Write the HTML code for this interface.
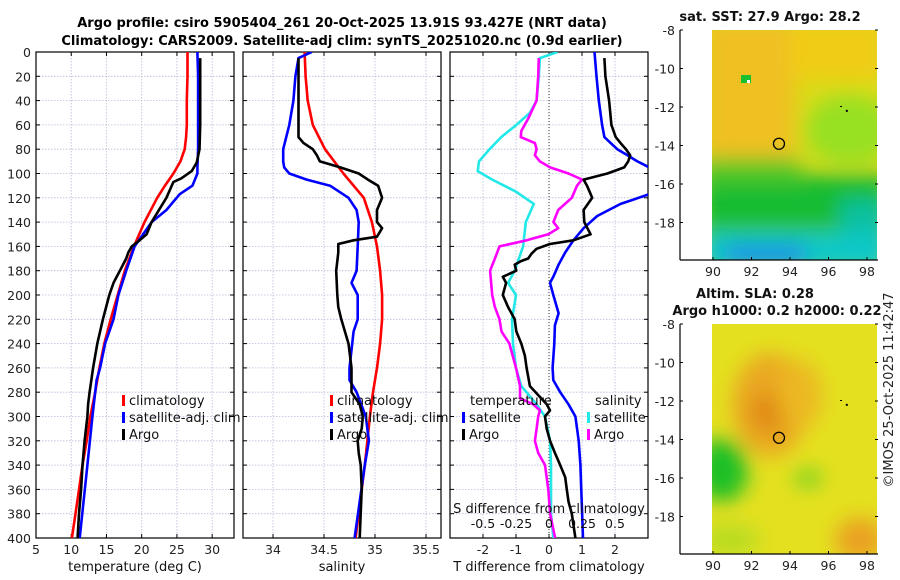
<!DOCTYPE html>
<html><head><meta charset="utf-8"><style>
body{margin:0;background:#fff;}
svg{display:block;font-family:"DejaVu Sans","Liberation Sans",sans-serif;}
</style></head><body>
<svg id="fig" width="900" height="580" viewBox="0 0 900 580" xmlns="http://www.w3.org/2000/svg">
<defs>
<filter id="blur6" x="-50%" y="-50%" width="200%" height="200%"><feGaussianBlur stdDeviation="6"/></filter>
<filter id="blur10" x="-50%" y="-50%" width="200%" height="200%"><feGaussianBlur stdDeviation="10"/></filter>
<clipPath id="m1clip"><rect x="712" y="30" width="165" height="230"/></clipPath>
<clipPath id="m2clip"><rect x="712" y="324" width="165" height="230"/></clipPath>
<clipPath id="p1c"><rect x="36" y="52" width="198" height="486"/></clipPath>
<clipPath id="p2c"><rect x="243" y="52" width="198" height="486"/></clipPath>
<clipPath id="p3c"><rect x="450" y="52" width="198" height="486"/></clipPath>
</defs>
<text x="342" y="27" text-anchor="middle" font-size="13" font-weight="bold">Argo profile: csiro 5905404_261 20-Oct-2025 13.91S 93.427E (NRT data)</text>
<text x="342" y="45" text-anchor="middle" font-size="13" font-weight="bold">Climatology: CARS2009. Satellite-adj clim: synTS_20251020.nc (0.9d earlier)</text>
<g id="plots"></g>
<g id="maps">
  <!-- map 1 SST -->
  <g clip-path="url(#m1clip)">
    <rect x="712" y="30" width="165" height="230" fill="#d8dc18"/>
    <g filter="url(#blur10)">
      <rect x="705" y="20" width="90" height="140" fill="#f0c020"/>
      <rect x="790" y="20" width="95" height="60" fill="#f0cc18"/>
      <ellipse cx="850" cy="130" rx="45" ry="35" fill="#98e020"/>
      <rect x="700" y="175" width="190" height="55" fill="#18bc30"/>
      <rect x="700" y="158" width="100" height="25" fill="#50c828"/>
      <rect x="840" y="200" width="50" height="40" fill="#10c0a0"/>
      <rect x="700" y="232" width="190" height="40" fill="#10c8c8"/>
      <rect x="725" y="245" width="80" height="20" fill="#1890e8"/>
    </g>
    <rect x="741" y="75" width="10" height="8" fill="#18c030"/>
    <rect x="747" y="80" width="3" height="3" fill="#fff"/>
  </g>
  <!-- map 2 SLA -->
  <g clip-path="url(#m2clip)">
    <rect x="712" y="324" width="165" height="230" fill="#e4e020"/>
    <g filter="url(#blur10)">
      <ellipse cx="770" cy="405" rx="38" ry="52" fill="#eaa820"/>
      <ellipse cx="768" cy="412" rx="18" ry="20" fill="#e08a18"/>
      <ellipse cx="800" cy="395" rx="22" ry="35" fill="#ecb820"/>
      <ellipse cx="722" cy="470" rx="26" ry="32" fill="#1cc028"/>
      <ellipse cx="808" cy="478" rx="14" ry="8" fill="#60d020"/>
      <ellipse cx="860" cy="540" rx="25" ry="22" fill="#eaa020"/>
      <ellipse cx="730" cy="540" rx="30" ry="16" fill="#b8dc20"/>
    </g>
  </g>
</g>
<g id="mapaxes"></g>
<text transform="translate(893,390) rotate(-90)" text-anchor="middle" font-size="13" fill="#222">©IMOS 25-Oct-2025 11:42:47</text>
</svg>
<script>
const NS="http://www.w3.org/2000/svg";
// ---- data ----
const tClimDepth=[0,20,40,60,70,80,90,100,110,120,140,160,180,200,220,240,260,280,300,320,340,360,380,400];
const tClimVal=[26.5,26.5,26.4,26.4,26.3,26.1,25.5,24.5,23.3,22.2,20.4,18.9,17.6,16.6,15.6,14.7,14.0,13.4,12.7,12.2,11.6,11.1,10.6,10.1];
const tSatDepth=[0,20,40,60,80,95,100,110,117,130,140,150,160,180,200,220,240,260,270,300,340,400];
const tSatVal=[27.9,28.0,28.0,28.0,28.0,27.9,27.9,27.2,25.4,23.5,21.4,20.2,19.0,17.8,16.7,16.0,14.8,14.1,13.6,13.0,12.3,11.2];
const tArgoDepth=[5,20,40,60,80,91,98,104,107,120,140,150,155,160,165,170,180,190,200,220,240,260,280,290,300,320,340,360,380,400];
const tArgoVal=[28.3,28.3,28.3,28.3,28.2,27.8,27.1,25.6,24.5,23.5,21.4,20.7,19.7,18.6,18.1,17.8,16.9,16.0,15.4,14.5,13.7,13.1,12.6,12.4,12.3,11.9,11.6,11.4,11.1,10.9];
const sClimDepth=[0,20,40,60,80,100,120,140,160,180,200,220,240,260,280,300,340,400];
const sClimVal=[34.31,34.32,34.34,34.39,34.51,34.69,34.89,34.97,35.02,35.05,35.07,35.07,35.05,35.02,34.98,34.95,34.90,34.81];
const sSatDepth=[0,5,20,40,60,80,90,95,100,105,110,120,130,140,160,180,190,200,220,230,260,270,280,300,320,340,400];
const sSatVal=[34.38,34.25,34.22,34.20,34.16,34.10,34.10,34.11,34.16,34.33,34.56,34.74,34.82,34.84,34.83,34.82,34.77,34.83,34.83,34.79,34.75,34.75,34.82,34.91,34.94,34.90,34.80];
const sArgoDepth=[5,20,40,60,70,75,80,85,90,95,100,105,110,120,130,140,145,152,155,158,165,180,200,210,220,240,260,280,290,300,310,320,330,340,360,400];
const sArgoVal=[34.25,34.25,34.25,34.25,34.25,34.30,34.39,34.43,34.46,34.66,34.84,34.93,35.03,35.07,35.02,35.02,35.07,35.02,34.79,34.64,34.64,34.62,34.63,34.64,34.67,34.74,34.77,34.77,34.85,34.88,34.87,34.83,34.84,34.86,34.87,34.85];
const dTSatDepth=[0,20,40,60,70,75,80,85,90,95,null,117,125,135,145,155,165,175,185,190,200,215,225,240,260,270,280,290,300,320,340,400];
const dTSatVal=[1.38,1.44,1.51,1.61,1.68,1.87,2.07,2.38,2.68,3.04,null,3.04,2.17,1.46,1.05,0.74,0.49,0.29,0.13,0.03,0.13,0.29,0.18,0.16,0.11,0.13,0.34,0.59,0.80,0.90,0.95,1.03];
const dTArgoDepth=[5,20,40,60,70,75,80,85,90,95,100,105,110,120,130,140,150,155,158,162,166,170,172,175,180,185,190,200,210,220,230,240,250,260,275,290,295,300,310,320,330,340,350,360,370,380,400];
const dTArgoVal=[1.68,1.71,1.82,1.89,2.02,2.17,2.33,2.46,2.40,2.28,1.77,1.05,1.15,1.31,1.05,1.07,1.26,0.74,0.03,-0.38,-0.53,-0.63,-0.84,-1.04,-0.99,-1.40,-1.30,-1.40,-1.24,-1.04,-0.99,-0.84,-0.73,-0.68,-0.58,-0.07,0.03,-0.12,-0.07,0.03,0.18,0.34,0.49,0.54,0.59,0.69,0.80];
const dSSatDepth=[0,5,20,40,50,60,70,80,90,98,105,115,125,140,160,180,190,200,220,240,260,275,290,300,320,340,380,400];
const dSSatVal=[0.064,-0.069,-0.077,-0.094,-0.145,-0.247,-0.362,-0.45,-0.53,-0.54,-0.43,-0.25,-0.115,-0.176,-0.196,-0.26,-0.31,-0.25,-0.28,-0.273,-0.25,-0.21,-0.094,-0.03,0.008,0.015,0.015,0.033];
const dSArgoDepth=[5,20,40,55,65,70,75,80,85,90,95,100,105,110,120,130,140,145,150,155,160,170,180,200,210,220,230,240,260,275,285,290,295,300,310,320,330,340,360,380,400];
const dSArgoVal=[-0.077,-0.082,-0.094,-0.158,-0.21,-0.214,-0.107,-0.094,-0.107,-0.069,0.008,0.148,0.25,0.212,0.173,0.07,0.033,0.07,-0.005,-0.17,-0.375,-0.41,-0.446,-0.43,-0.41,-0.375,-0.36,-0.30,-0.25,-0.22,-0.22,-0.12,-0.069,-0.082,-0.094,-0.107,-0.082,-0.03,-0.005,0.008,0.046];
const depthTicks=[0,20,40,60,80,100,120,140,160,180,200,220,240,260,280,300,320,340,360,380,400];
const tempTicks=[5,10,15,20,25,30];
const salTicks=[34,34.5,35,35.5];
const dTTicks=[-2,-1,0,1,2];
const dSTicks=[-0.5,-0.25,0,0.25,0.5];
const dSTickLabels=["-0.5","-0.25","0","0.25","0.5"];
const lonTicks=[90,92,94,96,98];
const latTicks=[-8,-10,-12,-14,-16,-18];
const argoLon=93.427, argoLat=-13.91;

// ---- helpers ----
const TOP=52,BOT=538;
function yD(d){return TOP+(d/400)*(BOT-TOP);}
function mk(tag,attrs,parent){const e=document.createElementNS(NS,tag);for(const k in attrs)e.setAttribute(k,attrs[k]);parent.appendChild(e);return e;}
const plots=document.getElementById('plots');
function panel(x0,name,xmin,xmax,ticks,labels,clip){
  const w=198;const g=mk('g',{},plots);
  
  
  const sx=v=>x0+(v-xmin)/(xmax-xmin)*w;
  for(const d of depthTicks){const l=mk('line',{x1:x0,x2:x0+w,y1:yD(d),y2:yD(d),stroke:'#b8bcd8','stroke-width':0.8,'stroke-dasharray':'1.5,1.5'},g);
    
    }
  ticks.forEach((t,i)=>{const X=sx(t);const l=mk('line',{x1:X,x2:X,y1:TOP,y2:BOT,stroke:'#b8bcd8','stroke-width':0.8,'stroke-dasharray':'1.5,1.5'},g);
    
    
    mk('line',{x1:X,x2:X,y1:BOT,y2:BOT-4,stroke:'#000'},g);mk('line',{x1:X,x2:X,y1:TOP,y2:TOP+4,stroke:'#000'},g);
    const tx=mk('text',{x:X,y:BOT+16,'text-anchor':'middle','font-size':12.5,fill:'#222'},g);tx.textContent=labels[i];
    
    });
  for(const d of depthTicks){mk('line',{x1:x0,x2:x0+4,y1:yD(d),y2:yD(d),stroke:'#000'},g);mk('line',{x1:x0+w-4,x2:x0+w,y1:yD(d),y2:yD(d),stroke:'#000'},g);}
  const box=mk('rect',{x:x0,y:TOP,width:w,height:BOT-TOP,fill:'none',stroke:'#000','stroke-width':1.2},g);
  
  
  return {g,sx,clip};
}
function series(p,dep,val,color,name){
  let d='';let pen=false;
  for(let i=0;i<dep.length;i++){if(dep[i]===null){pen=false;continue;}d+=(pen?'L':'M')+p.sx(val[i]).toFixed(1)+','+yD(dep[i]).toFixed(1);pen=true;}
  const path=mk('path',{d:d,fill:'none',stroke:color,'stroke-width':2.6,'stroke-linejoin':'round','clip-path':'url(#'+p.clip+')'},p.g);
  
  
}
function text(parent,x,y,s,size,anchor,name){const t=mk('text',{x:x,y:y,'font-size':size,'text-anchor':anchor||'start',fill:'#111'},parent);t.textContent=s;
  
  return t;}
function legendEntry(parent,x,y,color,label){const r=mk('rect',{x:x,y:y-10,width:3,height:11,fill:color},parent);
  
  
  text(parent,x+7,y,label,13,'start','legend-entry');}

// panel 1 temperature
const p1=panel(36,'temperature-panel',5,33.1,tempTicks,tempTicks.map(String),'p1c');
for(const d of depthTicks){const t=text(plots,31,yD(d)+5,String(d),12.5,'end','y-tick-label');t.setAttribute('fill','#222');}
series(p1,tClimDepth,tClimVal,'#f00','temp-climatology-line');
series(p1,tSatDepth,tSatVal,'#00f','temp-satellite-line');
series(p1,tArgoDepth,tArgoVal,'#000','temp-argo-line');
text(plots,135,571,'temperature (deg C)',13,'middle','x-axis-title-temperature');
legendEntry(plots,122,405,'#f00','climatology');
legendEntry(plots,122,422,'#00f','satellite-adj. clim');
legendEntry(plots,122,439,'#000','Argo');

// panel 2 salinity
const p2=panel(243,'salinity-panel',33.706,35.647,salTicks,salTicks.map(String),'p2c');
series(p2,sClimDepth,sClimVal,'#f00','sal-climatology-line');
series(p2,sSatDepth,sSatVal,'#00f','sal-satellite-line');
series(p2,sArgoDepth,sArgoVal,'#000','sal-argo-line');
text(plots,342,571,'salinity',13,'middle','x-axis-title-salinity');
legendEntry(plots,330,405,'#f00','climatology');
legendEntry(plots,330,422,'#00f','satellite-adj. clim');
legendEntry(plots,330,439,'#000','Argo');

// panel 3 differences
const p3=panel(450,'difference-panel',-3,3,dTTicks,dTTicks.map(String),'p3c');
const zl=mk('line',{x1:p3.sx(0),x2:p3.sx(0),y1:TOP,y2:BOT,stroke:'#333','stroke-width':1,'stroke-dasharray':'1,2'},p3.g);


const p3s={g:p3.g,sx:v=>549+v*132,clip:'p3c'};
series(p3s,dSSatDepth,dSSatVal,'#22e8e8','sdiff-satellite-line');
series(p3s,dSArgoDepth,dSArgoVal,'#f0f','sdiff-argo-line');
series(p3,dTSatDepth,dTSatVal,'#00f','tdiff-satellite-line');
series(p3,dTArgoDepth,dTArgoVal,'#000','tdiff-argo-line');
text(plots,549,571,'T difference from climatology',13,'middle','x-axis-title-tdiff');
text(plots,549,513,'S difference from climatology',13,'middle','s-axis-title');
dSTicks.forEach((v,i)=>text(plots,549+v*132,528,dSTickLabels[i],12.5,'middle','s-tick-label'));
text(plots,470,405,'temperature',13,'start','legend-title-temperature');
text(plots,595,405,'salinity',13,'start','legend-title-salinity');
legendEntry(plots,462,422,'#00f','satellite');
legendEntry(plots,462,439,'#000','Argo');
legendEntry(plots,587,422,'#22e8e8','satellite');
legendEntry(plots,587,439,'#f0f','Argo');

// maps
const ma=document.getElementById('mapaxes');
function mapAxes(top,name,t1,t2){
  const L=680,R=878,B=top+230,ppd=19.25;
  const sx=lon=>713+(lon-90)*ppd, sy=lat=>top+(-8-lat)*ppd;
  const g=mk('g',{},ma);
  
  
  mk('line',{x1:L,x2:R,y1:B,y2:B,stroke:'#000','stroke-width':1.2},g);
  mk('line',{x1:L,x2:L,y1:top,y2:B,stroke:'#000','stroke-width':1.2},g);
  lonTicks.forEach(v=>{mk('line',{x1:sx(v),x2:sx(v),y1:B,y2:B-3,stroke:'#000'},g);text(g,sx(v),B+16,String(v),12.5,'middle','lon-tick-label').setAttribute('fill','#222');});
  latTicks.forEach(v=>{mk('line',{x1:L,x2:L+3,y1:sy(v),y2:sy(v),stroke:'#000'},g);mk('line',{x1:R-3,x2:R,y1:sy(v),y2:sy(v),stroke:'#000'},g);text(g,L-5,sy(v)+5,String(v),12.5,'end','lat-tick-label').setAttribute('fill','#222');});
  const c=mk('circle',{cx:sx(argoLon),cy:sy(argoLat),r:5.5,fill:'none',stroke:'#000','stroke-width':1.3},g);
  
  
  mk('rect',{x:sx(96.9),y:sy(-12.2)-1,width:2,height:2,fill:'#000'},g);
  mk('rect',{x:sx(96.6),y:sy(-12.0)-1,width:2,height:1,fill:'#000'},g);
  return g;
}
const g1=mapAxes(30,'sst-map-axes');
text(g1,770,21,'sat. SST: 27.9 Argo: 28.2',13,'middle','sst-map-title').setAttribute('font-weight','bold');
const g2=mapAxes(324,'sla-map-axes');
text(g2,755,298,'Altim. SLA: 0.28',13,'middle','sla-map-title').setAttribute('font-weight','bold');
text(g2,777,315,'Argo h1000: 0.2 h2000: 0.22',13,'middle','sla-map-subtitle').setAttribute('font-weight','bold');
</script>
</body></html>
